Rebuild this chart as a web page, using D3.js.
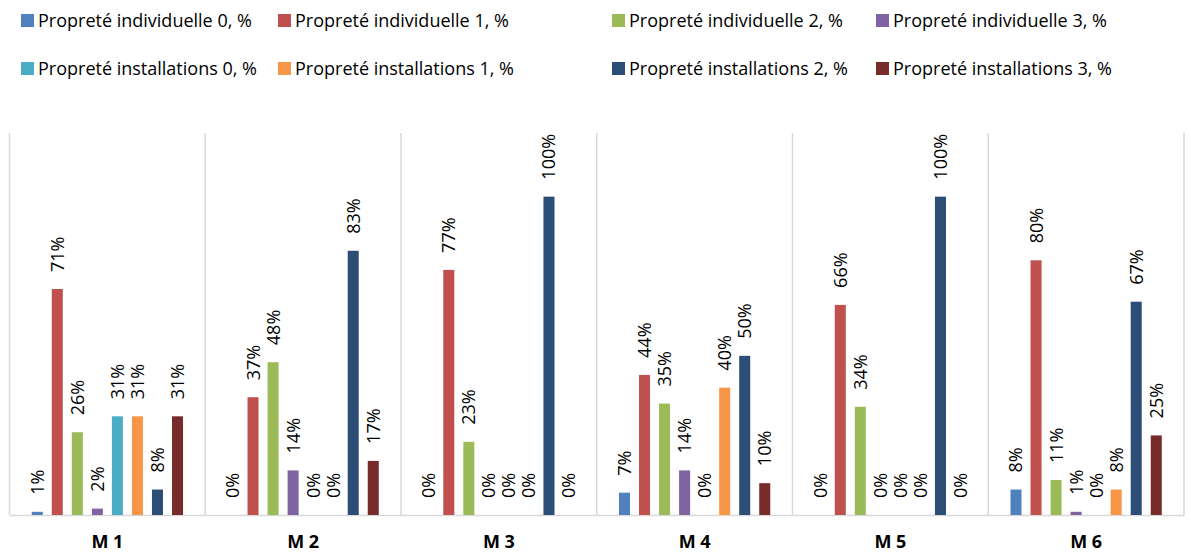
<!DOCTYPE html>
<html>
<head>
<meta charset="utf-8">
<script src="https://cdn.jsdelivr.net/npm/d3@7"></script>
<style>
  body { margin: 0; background: #fff; }
  svg { display: block; font-family: "Open Sans", sans-serif; }
</style>
</head>
<body>
<svg id="chart"></svg>
<script>
// chart data
var groups = ["M 1", "M 2", "M 3", "M 4", "M 5", "M 6"];
var seriesNames = [
    "Propreté individuelle 0, %", "Propreté individuelle 1, %",
    "Propreté individuelle 2, %", "Propreté individuelle 3, %",
    "Propreté installations 0, %", "Propreté installations 1, %",
    "Propreté installations 2, %", "Propreté installations 3, %"
];
var indiv0 = [1, 0, 0, 7, 0, 8];
var indiv1 = [71, 37, 77, 44, 66, 80];
var indiv2 = [26, 48, 23, 35, 34, 11];
var indiv3 = [2, 14, 0, 14, 0, 1];
var inst0 = [31, 0, 0, 0, 0, 0];
var inst1 = [31, 0, 0, 40, 0, 8];
var inst2 = [8, 83, 100, 50, 100, 67];
var inst3 = [31, 17, 0, 10, 0, 25];
var colors = ["#4F81BD", "#C0504D", "#9BBB59", "#8064A2", "#4BACC6", "#F79646", "#2C4D75", "#772C2A"];

var allSeries = [indiv0, indiv1, indiv2, indiv3, inst0, inst1, inst2, inst3];

var dimensions = {
    width: 1191,
    height: 554,
    margin: { top: 133, bottom: 39, left: 9.5, right: 7 }
};

var svg = d3.select("#chart")
    .attr("width", dimensions.width)
    .attr("height", dimensions.height);

var baseY = dimensions.height - dimensions.margin.bottom;

var xScale = d3.scaleBand()
    .domain(groups)
    .range([dimensions.margin.left, dimensions.width - dimensions.margin.right])
    .padding(0);

var xInner = d3.scaleBand()
    .domain(d3.range(seriesNames.length))
    .range([0, xScale.bandwidth()])
    .paddingInner(0.45)
    .paddingOuter(1.11);

var yScale = d3.scaleLinear()
    .domain([0, 120])
    .range([baseY, dimensions.margin.top]);

// separators between groups
var bounds = groups.map(g => xScale(g)).concat([xScale.range()[1]]);
svg.append("g")
    .selectAll("line")
    .data(bounds)
    .enter()
    .append("line")
    .attr("x1", d => d)
    .attr("x2", d => d)
    .attr("y1", dimensions.margin.top)
    .attr("y2", baseY)
    .attr("stroke", "#d9d9d9")
    .attr("stroke-width", 1.5);

// bottom axis
var xAxis = svg.append("g")
    .attr("transform", `translate(0,${baseY})`)
    .call(d3.axisBottom(xScale).tickSize(0).tickPadding(20));
xAxis.select(".domain").attr("stroke", "#d9d9d9").attr("stroke-width", 1.5);
xAxis.selectAll("text")
    .style("font-family", "Open Sans, sans-serif")
    .style("font-size", "18px")
    .style("font-weight", "bold")
    .attr("fill", "#000");

// bars
var rows = [];
groups.forEach((g, gi) => {
    allSeries.forEach((s, si) => {
        rows.push({ group: g, series: si, value: s[gi] });
    });
});

svg.append("g")
    .selectAll("rect")
    .data(rows)
    .enter()
    .append("rect")
    .attr("x", d => xScale(d.group) + xInner(d.series))
    .attr("y", d => yScale(d.value))
    .attr("width", xInner.bandwidth())
    .attr("height", d => baseY - yScale(d.value))
    .attr("fill", d => colors[d.series]);

// value labels, rotated
svg.append("g")
    .selectAll("text")
    .data(rows)
    .enter()
    .append("text")
    .attr("transform", d => "translate(" + (xScale(d.group) + xInner(d.series) + xInner.bandwidth() / 2) + "," + (yScale(d.value) - 17) + ")rotate(-90)")
    .attr("dy", "0.36em")
    .style("text-anchor", "start")
    .style("font-size", "18px")
    .attr("fill", "#000")
    .text(d => d.value + "%");

// legend
var legendX = [21, 278, 612, 876];
var legendY = [20.5, 68.5];
var legend = svg.append("g")
    .selectAll("g")
    .data(seriesNames)
    .enter()
    .append("g")
    .attr("transform", (d, i) => `translate(${legendX[i % 4]},${legendY[Math.floor(i / 4)]})`);

legend.append("rect")
    .attr("x", 0)
    .attr("y", -6.5)
    .attr("width", 13)
    .attr("height", 13)
    .attr("fill", (d, i) => colors[i]);

legend.append("text")
    .attr("x", 17)
    .attr("dy", "0.36em")
    .style("font-size", "18px")
    .attr("fill", "#000")
    .text(d => d);
</script>
</body>
</html>
